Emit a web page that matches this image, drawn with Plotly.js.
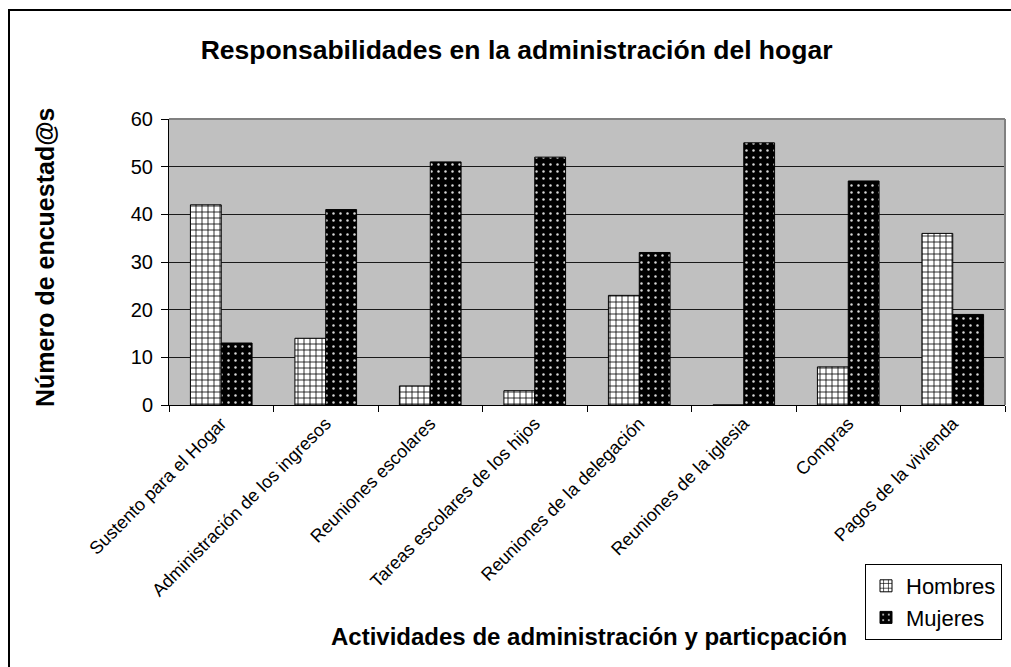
<!DOCTYPE html>
<html>
<head>
<meta charset="utf-8">
<script src="https://cdn.plot.ly/plotly-3.0.1.min.js"></script>
<style>
html,body{margin:0;padding:0;background:#fff;}
#chart{width:1011px;height:667px;position:absolute;left:0;top:0;}
#frame{position:absolute;left:8px;top:9px;width:1011px;height:667px;border-left:2px solid #000;border-top:2px solid #000;pointer-events:none;}
</style>
</head>
<body>
<div id="chart"></div>
<div id="frame"></div>
<script>
const categories = [
  "Sustento para el Hogar",
  "Administración de los ingresos",
  "Reuniones escolares",
  "Tareas escolares de los hijos",
  "Reuniones de la delegación",
  "Reuniones de la iglesia",
  "Compras",
  "Pagos de la vivienda"
];
const hombres = [42, 14, 4, 3, 23, 0, 8, 36];
const mujeres = [13, 41, 51, 52, 32, 55, 47, 19];
const yTicks = [0, 10, 20, 30, 40, 50, 60];

const FONT = "Liberation Sans, Arial, sans-serif";

const traces = [
  {
    type: "bar", name: "Hombres", x: categories, y: hombres,
    marker: {
      color: "#ffffff",
      line: {color: "#000", width: 1},
      pattern: {shape: "+", fgcolor: "#000", bgcolor: "#ffffff", size: 6, solidity: 0.25, fillmode: "replace"}
    }
  },
  {
    type: "bar", name: "Mujeres", x: categories, y: mujeres,
    marker: {
      color: "#000000",
      line: {color: "#000", width: 1},
      pattern: {shape: ".", fgcolor: "#d8d8d8", bgcolor: "#000000", size: 7, solidity: 0.1, fillmode: "replace"}
    }
  }
];

const layout = {
  width: 1011, height: 667,
  margin: {l: 169, r: 6, t: 119, b: 262},
  paper_bgcolor: "#ffffff",
  plot_bgcolor: "#c0c0c0",
  barmode: "group",
  bargap: 0.41,
  bargroupgap: 0,
  font: {family: FONT, color: "#000"},
  title: {
    text: "<b>Responsabilidades en la administración del hogar</b>",
    font: {family: FONT, size: 26.5, color: "#000"},
    xref: "container", x: 0.511, xanchor: "center",
    yref: "container", y: 1 - 50/667, yanchor: "middle"
  },
  xaxis: {
    type: "category",
    tickangle: -45,
    tickfont: {family: FONT, size: 18, color: "#000"},
    ticks: "outside", ticklen: 6, tickcolor: "#000", tickson: "boundaries",
    showline: true, linecolor: "#000", linewidth: 1,
    showgrid: false, zeroline: false
  },
  yaxis: {
    range: [0, 60],
    tickvals: yTicks,
    tickfont: {family: FONT, size: 20, color: "#000"},
    ticks: "outside", ticklen: 7, tickcolor: "#000",
    ticklabelstandoff: 4,
    showline: true, linecolor: "#000", linewidth: 1,
    showgrid: true, gridcolor: "#1a1a1a", gridwidth: 1,
    zeroline: false
  },
  showlegend: true,
  legend: {
    x: (865-169)/836, xanchor: "left",
    y: (405-564)/286, yanchor: "top",
    bgcolor: "#ffffff", bordercolor: "#000", borderwidth: 1,
    font: {family: FONT, size: 22, color: "#000"},
    itemwidth: 30
  },
  annotations: [
    {
      text: "<b>Número de encuestad@s</b>",
      xref: "paper", yref: "paper",
      x: (45-169)/836, y: (405-258)/286,
      xanchor: "center", yanchor: "middle",
      textangle: -90, showarrow: false,
      font: {family: FONT, size: 25, color: "#000"}
    },
    {
      text: "<b>Actividades de administración y particpación</b>",
      xref: "paper", yref: "paper",
      x: (589-169)/836, y: (405-636)/286,
      xanchor: "center", yanchor: "middle",
      showarrow: false,
      font: {family: FONT, size: 24, color: "#000"}
    }
  ],
  shapes: [
    {type: "line", xref: "paper", yref: "paper", x0: 0, x1: 1, y0: 1, y1: 1, line: {color: "#808080", width: 2}, layer: "above"},
    {type: "line", xref: "paper", yref: "paper", x0: 1, x1: 1, y0: 0, y1: 1, line: {color: "#808080", width: 2}, layer: "above"}
  ]
};

Plotly.newPlot("chart", traces, layout, {displayModeBar: false, staticPlot: true});
</script>
</body>
</html>
